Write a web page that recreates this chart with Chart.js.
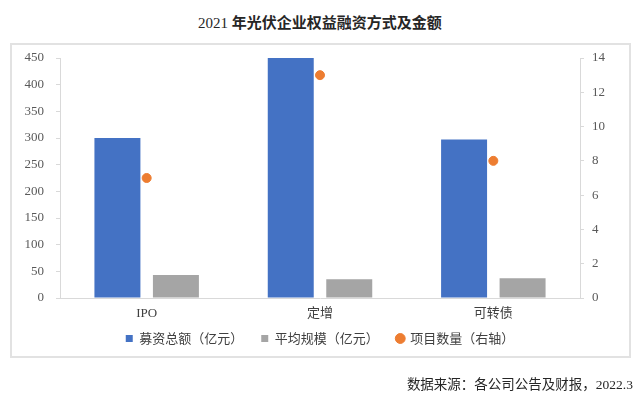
<!DOCTYPE html>
<html>
<head>
<meta charset="utf-8">
<script src="https://cdn.jsdelivr.net/npm/chart.js@4"></script>
<style>
  html, body { margin: 0; padding: 0; background: #fff; }
  body { width: 640px; height: 398px; position: relative; overflow: hidden; }
  #wrap { position: absolute; left: 0; top: 0; width: 640px; height: 398px; }
  #frame { position: absolute; left: 10px; top: 43px; width: 621px; height: 315px; box-sizing: border-box; border: 2px solid #e2e2e2; pointer-events: none; }
  #title { position: absolute; left: 0; width: 640px; top: 12px; text-align: center; font-size: 15px; color: #262626; line-height: 20px; }
  #title .num { font-family: "Liberation Serif", serif; }
  #title .cjk { font-family: "Noto Sans CJK SC", sans-serif; font-weight: bold; }
  #source { position: absolute; right: 7px; top: 376px; font-size: 13.5px; line-height: 18px; color: #262626; font-family: "Liberation Serif", "Noto Sans CJK SC", serif; }
</style>
</head>
<body>
<div id="title"><span class="num">2021 </span><span class="cjk">年光伏企业权益融资方式及金额</span></div>
<div id="frame"></div>
<div id="wrap"><canvas id="c" width="640" height="398"></canvas></div>
<div id="source">数据来源：各公司公告及财报，2022.3</div>
<script>
const categories = ["IPO", "定增", "可转债"];
const totalAmount = [300, 450, 297];      // 募资总额（亿元）
const avgScale = [43, 35, 37];            // 平均规模（亿元）
const projectCount = [7, 13, 8];          // 项目数量（右轴）
const seriesNames = ["募资总额（亿元）", "平均规模（亿元）", "项目数量（右轴）"];
const leftTicks = [0, 50, 100, 150, 200, 250, 300, 350, 400, 450];
const rightTicks = [0, 2, 4, 6, 8, 10, 12, 14];

const tickFont = { family: 'Liberation Serif, Noto Sans CJK SC, serif', size: 13 };
const axisColor = '#d9d9d9';

const legendShift = {
  id: 'legendShift',
  afterLayout(chart) {
    if (chart.legend) { chart.legend.top -= 10; chart.legend.bottom -= 10; }
  }
};

new Chart(document.getElementById('c'), {
  data: {
    labels: categories,
    datasets: [
      { type: 'bar', label: seriesNames[0], data: totalAmount, backgroundColor: '#4472C4', borderWidth: 0,
        pointStyle: 'rect', yAxisID: 'y' },
      { type: 'bar', label: seriesNames[1], data: avgScale, backgroundColor: '#A5A5A5', borderWidth: 0,
        pointStyle: 'rect', yAxisID: 'y' },
      { type: 'line', label: seriesNames[2], data: projectCount, showLine: false, yAxisID: 'y1',
        backgroundColor: '#ED7D31', borderColor: '#ED7D31', pointBackgroundColor: '#ED7D31',
        pointBorderColor: '#ED7D31', pointRadius: 4.5, pointBorderWidth: 1, pointStyle: 'circle' }
    ]
  },
  plugins: [legendShift],
  options: {
    responsive: false,
    animation: false,
    devicePixelRatio: 1,
    layout: { padding: { top: 58, left: 0, right: 0, bottom: 33 } },
    datasets: { bar: { categoryPercentage: 0.675, barPercentage: 0.786 } },
    plugins: {
      title: { display: false },
      tooltip: { enabled: false },
      legend: {
        position: 'bottom',
        labels: {
          usePointStyle: true, boxWidth: 7, boxHeight: 7, padding: 18,
          color: '#404040',
          font: { family: 'Noto Sans CJK SC, sans-serif', size: 13 }
        }
      }
    },
    scales: {
      x: {
        type: 'category',
        offset: true,
        grid: { display: false, drawTicks: false },
        border: { display: true, color: axisColor, width: 1 },
        ticks: { color: '#404040', font: tickFont, padding: 8, maxRotation: 0 },
        afterFit: (s) => { s.height = 26; }
      },
      y: {
        position: 'left', min: 0, max: 450,
        afterBuildTicks: (s) => { s.ticks = leftTicks.map(v => ({ value: v })); },
        grid: { drawOnChartArea: false, drawTicks: true, tickLength: 4, color: axisColor },
        border: { display: true, color: axisColor, width: 1 },
        ticks: { color: '#595959', font: tickFont, padding: 12 },
        afterFit: (s) => { s.width = 60; }
      },
      y1: {
        position: 'right', min: 0, max: 14,
        afterBuildTicks: (s) => { s.ticks = rightTicks.map(v => ({ value: v })); },
        grid: { drawOnChartArea: false, drawTicks: true, tickLength: 4, color: axisColor },
        border: { display: true, color: axisColor, width: 1 },
        ticks: { color: '#595959', font: tickFont, padding: 8 },
        afterFit: (s) => { s.width = 60; }
      }
    }
  }
});
</script>
</body>
</html>
